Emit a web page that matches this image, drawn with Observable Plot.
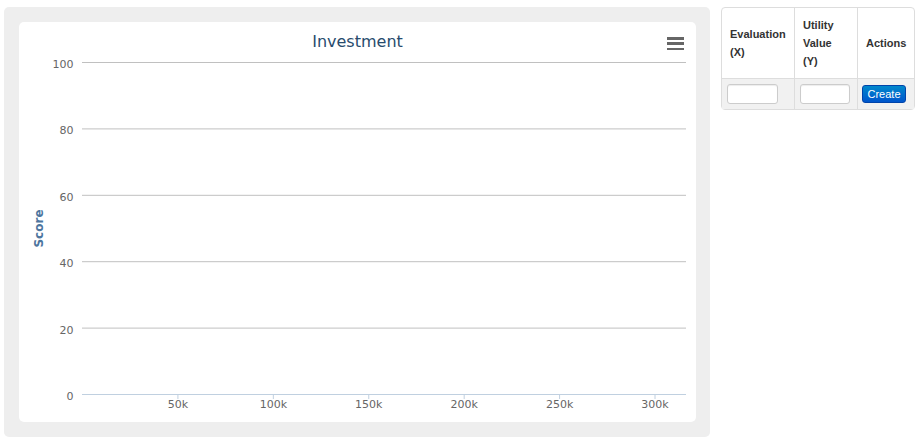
<!DOCTYPE html>
<html>
<head>
<meta charset="utf-8">
<script src="https://cdn.jsdelivr.net/npm/d3@7"></script>
<script src="https://cdn.jsdelivr.net/npm/@observablehq/plot@0.6"></script>
<style>
  html, body { margin: 0; padding: 0; background: #fff; width: 920px; height: 442px; overflow: hidden; }
  #panel { position: absolute; left: 4px; top: 7px; width: 706px; height: 430px; background: #eeeeee; border-radius: 5px; }
  #card { position: absolute; left: 19px; top: 22px; width: 677px; height: 400px; background: #fff; border-radius: 5px; }
  #title { position: absolute; left: 0; top: 10px; width: 100%; text-align: center; font-family: "DejaVu Sans", sans-serif; font-size: 16px; color: #274b6d; line-height: normal; }
  #chart { position: absolute; left: 0; top: 30px; }
  #menu { position: absolute; left: 648px; top: 15px; width: 17px; height: 14px; }
  #menu div { position: absolute; left: 0; width: 17px; height: 2.6px; background: #666; }
  #tbl { position: absolute; left: 721px; top: 7px; border-collapse: separate; border-spacing: 0; border: 1px solid #ddd; border-radius: 4px; table-layout: fixed; width: 194px; font-family: "Liberation Sans", Arial, sans-serif; font-size: 11px; color: #333; }
  #tbl th, #tbl td { padding: 0; border-left: 1px solid #ddd; }
  #tbl th:first-child, #tbl td:first-child { border-left: none; }
  #tbl th { font-weight: bold; text-align: left; vertical-align: middle; line-height: 18px; padding: 8px 8px; height: 54px; }
  #tbl td { border-top: 1px solid #ddd; background: #f1f1f1; height: 20px; padding: 5px 5px; vertical-align: middle; }
  #tbl input { box-sizing: border-box; width: 51px; height: 20px; border: 1px solid #ccc; border-radius: 3px; background: #fff; box-shadow: inset 0 1px 1px rgba(0,0,0,0.075); margin: 0; padding: 0; display: block; }
  #tbl button { box-sizing: border-box; width: 44px; height: 18px; padding: 0; margin: 0 0 0 -1px; border: 1px solid #0044aa; border-radius: 3px; background: linear-gradient(#0088cc, #0055cc); color: #fff; font-family: "Liberation Sans", Arial, sans-serif; font-size: 11px; line-height: 16px; display: block; }
</style>
</head>
<body>
<div id="panel"></div>
<div id="card">
  <div id="title"></div>
  <div id="menu"><div style="top:0px"></div><div style="top:5.3px"></div><div style="top:10.6px"></div></div>
  <div id="chart"></div>
</div>
<table id="tbl">
  <colgroup><col style="width:72px"><col style="width:63px"><col style="width:57px"></colgroup>
  <thead>
    <tr><th id="h0"></th><th id="h1"></th><th id="h2"></th></tr>
  </thead>
  <tbody>
    <tr><td><input type="text"></td><td><input type="text" style="width:50px"></td><td><button id="btn"></button></td></tr>
  </tbody>
</table>
<script>
// ---- chart data ----
const chartTitle = "Investment";
const yAxisTitle = "Score";
const xTicks = [50000, 100000, 150000, 200000, 250000, 300000];
const yTicks = [0, 20, 40, 60, 80, 100];
const xDomain = [0, 316500];
const yDomain = [0, 100];
const points = []; // the series has no points
const tableHeaders = ["Evaluation (X)", "Utility Value (Y)", "Actions"];
const buttonLabel = "Create";

document.getElementById("title").textContent = chartTitle;
tableHeaders.forEach((h, i) => { document.getElementById("h" + i).textContent = h; });
document.getElementById("btn").textContent = buttonLabel;

const chart = Plot.plot({
  width: 677,
  height: 370,
  marginLeft: 63,
  marginRight: 10,
  marginTop: 10,
  marginBottom: 28,
  x: {domain: xDomain},
  y: {domain: yDomain},
  style: {fontFamily: "DejaVu Sans, sans-serif", fontSize: "11px", color: "#666", background: "transparent", overflow: "visible"},
  marks: [
    Plot.gridY(yTicks, {stroke: "#c0c0c0", strokeOpacity: 1}),
    Plot.axisY(yTicks, {tickSize: 0, tickPadding: 9, label: null, fill: "#666", dy: 2}),
    Plot.ruleY([0], {stroke: "#c0d0e0", strokeOpacity: 1}),
    Plot.axisX(xTicks, {tickSize: 5, tickPadding: 1, stroke: "#c0d0e0", strokeOpacity: 1, fill: "#666", tickFormat: d => d / 1000 + "k", label: null}),
    Plot.text([yAxisTitle], {text: d => d, frameAnchor: "left", textAnchor: "middle", rotate: -90, dx: -43, fontWeight: "bold", fontSize: 12, fill: "#4d759e"}),
    Plot.dot(points, {x: "x", y: "y", fill: "#2f7ed8"})
  ]
});
document.getElementById("chart").appendChild(chart);
</script>
</body>
</html>
